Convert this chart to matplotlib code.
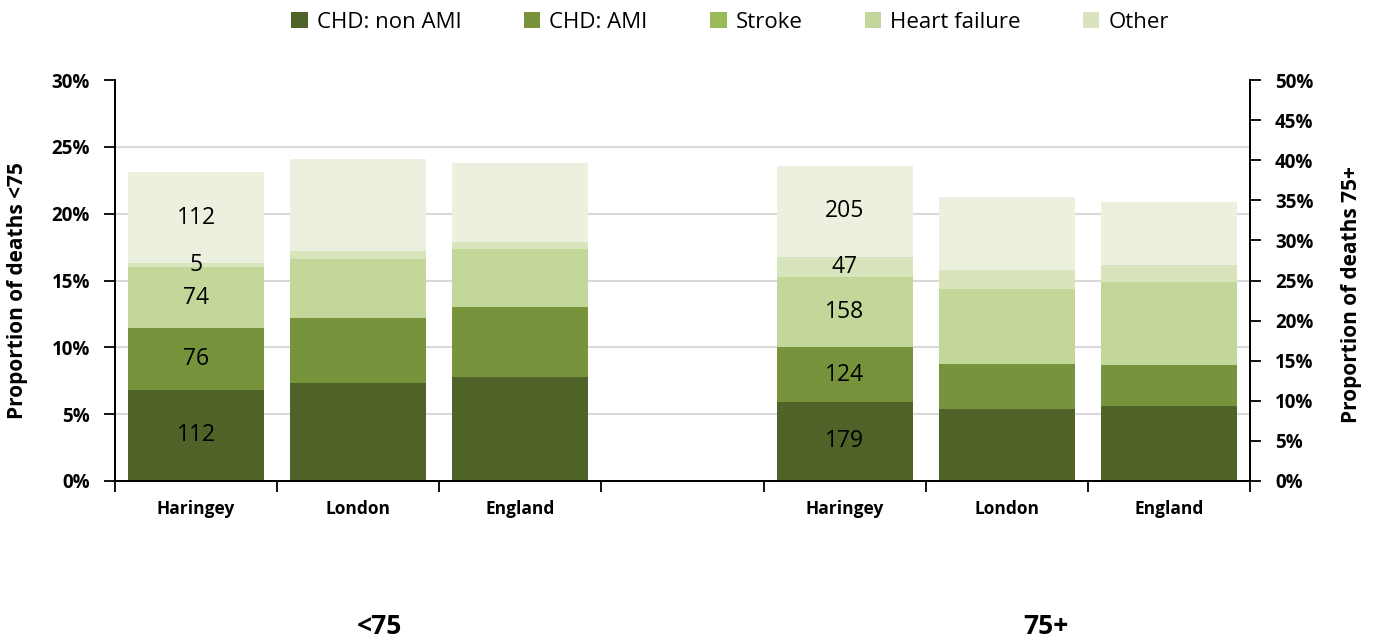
import matplotlib

matplotlib.use("Agg")
import matplotlib.pyplot as plt
import numpy as np
from matplotlib.patches import Patch
from matplotlib.ticker import FixedLocator, PercentFormatter

plt.rcParams["font.family"] = ["Open Sans", "DejaVu Sans"]

CAUSES = ["CHD: non AMI", "CHD: AMI", "Stroke", "Heart failure", "Other"]
AREAS = ["Haringey", "London", "England"]

# Haringey: death counts per cause and all-cause deaths in each age band
HARINGEY_U75_COUNTS = [112, 76, 74, 5, 112]
HARINGEY_U75_ALL_DEATHS = 1640
HARINGEY_75P_COUNTS = [179, 124, 158, 47, 205]
HARINGEY_75P_ALL_DEATHS = 1815

# London and England: proportion of all deaths (%) per cause
LONDON_U75 = [7.33, 4.86, 4.42, 0.60, 6.88]
ENGLAND_U75 = [7.78, 5.24, 4.34, 0.52, 5.91]
LONDON_75P = [8.98, 5.61, 9.35, 2.37, 9.10]
ENGLAND_75P = [9.35, 5.11, 10.35, 2.12, 7.86]

BAR_COLORS = ["#4f6228", "#77933c", "#c4d79b", "#d8e4bc", "#ebf1de"]
LEGEND_COLORS = ["#4f6228", "#77933c", "#9bbb59", "#c3d69b", "#d7e4bd"]


def stacked(ax, x, shares, counts=None):
    bottom = 0.0
    for i, h in enumerate(shares):
        ax.bar(x, h, bottom=bottom, width=0.84, color=BAR_COLORS[i], linewidth=0, zorder=2)
        if counts is not None:
            ax.text(x, bottom + h / 2, str(counts[i]), ha="center", va="center",
                    fontsize=16.5, color="black", zorder=3)
        bottom += h


fig = plt.figure(figsize=(13.76, 6.4), dpi=100)
ax = fig.add_axes([115 / 1376, 1 - 481 / 640, (1250 - 115) / 1376, (481 - 80) / 640])
ax2 = ax.twinx()

u75_har = 100 * np.array(HARINGEY_U75_COUNTS) / HARINGEY_U75_ALL_DEATHS
o75_har = 100 * np.array(HARINGEY_75P_COUNTS) / HARINGEY_75P_ALL_DEATHS

stacked(ax, 0, u75_har, HARINGEY_U75_COUNTS)
stacked(ax, 1, LONDON_U75)
stacked(ax, 2, ENGLAND_U75)
stacked(ax2, 4, o75_har, HARINGEY_75P_COUNTS)
stacked(ax2, 5, LONDON_75P)
stacked(ax2, 6, ENGLAND_75P)

ax.set_ylim(0, 30)
ax2.set_ylim(0, 50)
ax.set_xlim(-0.5, 6.5)
for y in range(5, 30, 5):
    ax.axhline(y, color="#d9d9d9", linewidth=1.5, zorder=0)

ax.set_yticks(np.arange(0, 31, 5))
ax2.set_yticks(np.arange(0, 51, 5))
for a in (ax, ax2):
    a.yaxis.set_major_formatter(PercentFormatter(decimals=0))
    a.spines["top"].set_visible(False)
    a.tick_params(axis="y", direction="out", length=8, width=1.3, labelsize=13.5, pad=10)
for side in ("left", "right", "bottom"):
    ax.spines[side].set_linewidth(1.3)
    ax2.spines[side].set_linewidth(1.3)

# category boundaries carry the tick marks, names sit at bar centres
ax.xaxis.set_major_locator(FixedLocator(np.arange(-0.5, 7, 1)))
ax.xaxis.set_minor_locator(FixedLocator(np.arange(7)))
ax.set_xticklabels([], minor=False)
ax.set_xticklabels(AREAS + [""] + AREAS, minor=True)
ax.tick_params(axis="x", which="major", direction="out", length=8, width=1.3)
ax.tick_params(axis="x", which="minor", length=0, pad=14, labelsize=12.5)

fig.canvas.draw()
for lab in ax.get_yticklabels() + ax2.get_yticklabels() + ax.get_xticklabels(minor=True):
    lab.set_fontweight("bold")

ax.set_ylabel("Proportion of deaths <75", fontsize=15, fontweight="bold")
ax2.set_ylabel("Proportion of deaths 75+", fontsize=15, fontweight="bold", rotation=90)
ax.yaxis.set_label_coords(-0.0855, 0.475)
ax2.yaxis.set_label_coords(1.089, 0.465)
ax.yaxis.label.set_va("center")
ax2.yaxis.label.set_va("center")

fig.text(380 / 1376, 1 - 627 / 640, "<75", ha="center", va="center", fontsize=19, fontweight="bold")
fig.text(1046 / 1376, 1 - 627 / 640, "75+", ha="center", va="center", fontsize=19, fontweight="bold")

handles = [Patch(facecolor=c, edgecolor="none") for c in LEGEND_COLORS]
fig.legend(handles, CAUSES, loc="center", bbox_to_anchor=(730 / 1376, 1 - 22 / 640), ncol=5,
           frameon=False, fontsize=16, handlelength=0.75, handleheight=0.75,
           handletextpad=0.4, columnspacing=2.8)

fig.savefig("out.png", dpi=100)
